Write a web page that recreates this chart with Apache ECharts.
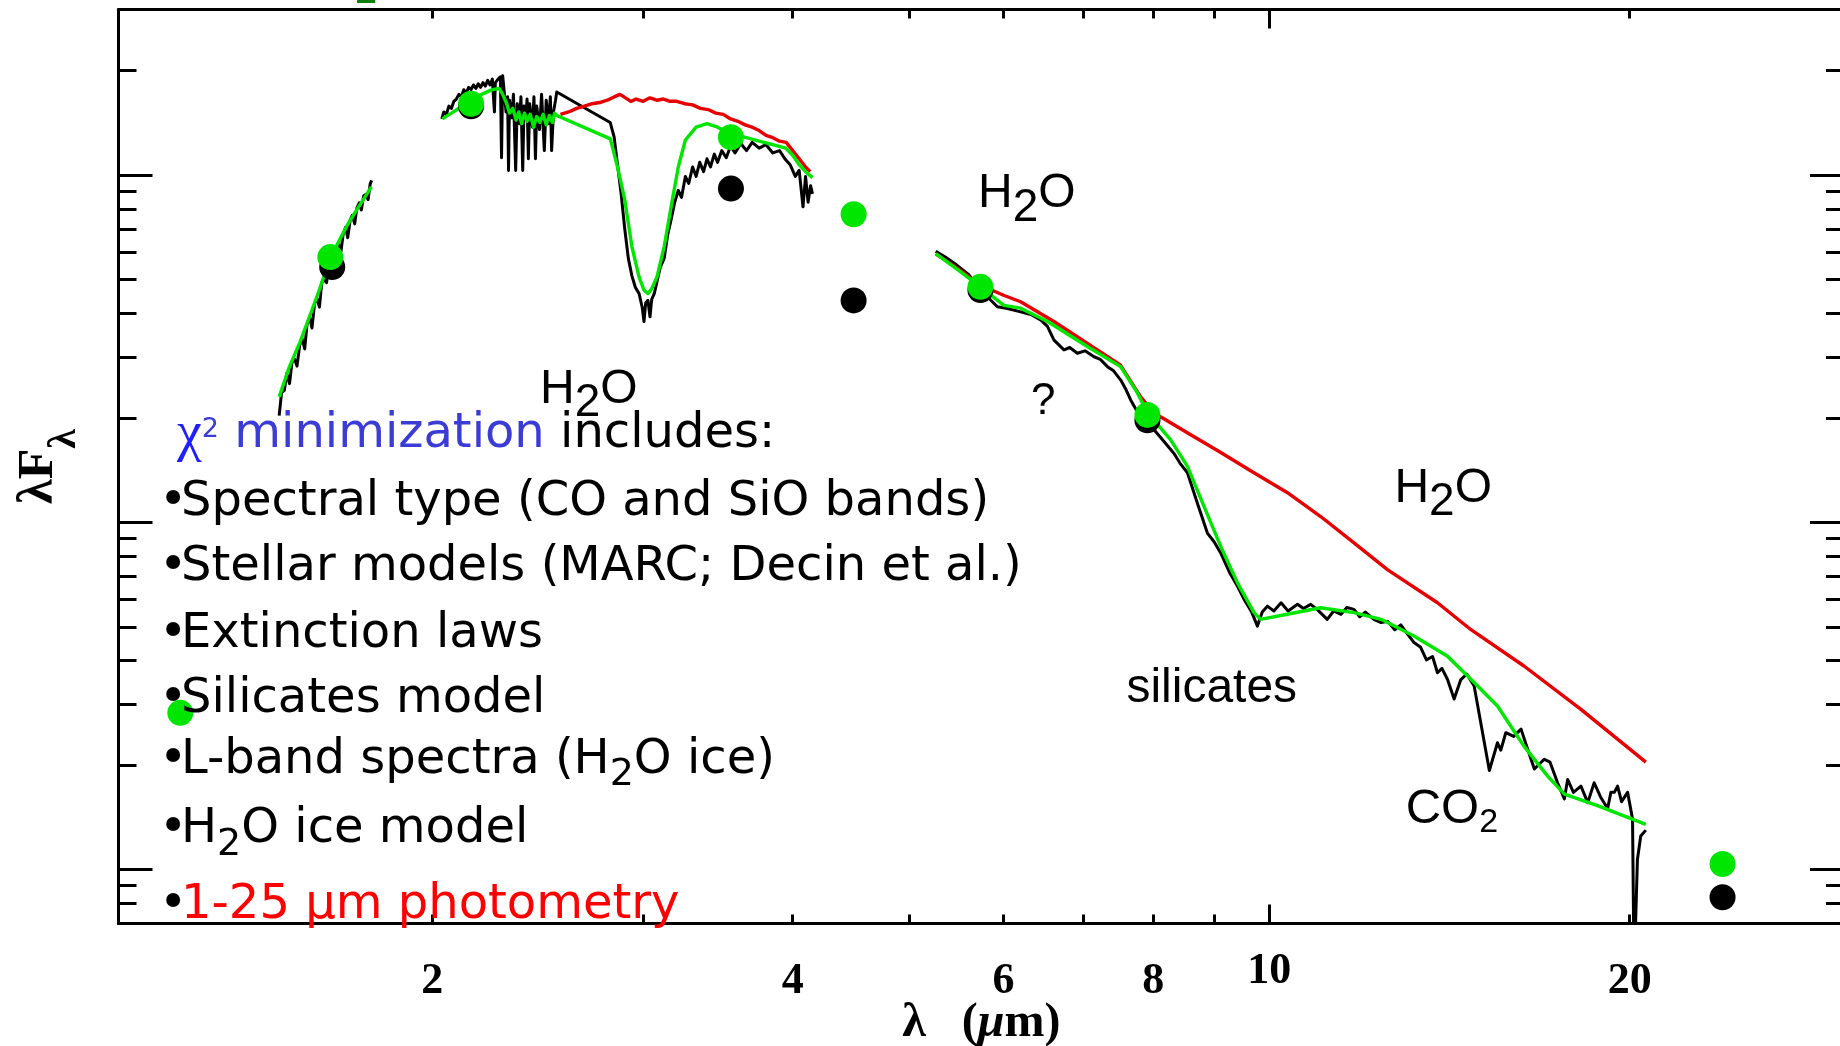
<!DOCTYPE html>
<html><head><meta charset="utf-8">
<script src="https://cdn.jsdelivr.net/npm/echarts@6/dist/echarts.min.js"></script>
<style>html,body{margin:0;padding:0;background:#fff;}#c{width:1840px;height:1046px;}</style>
</head><body><div id="c"></div>
<script>
// ---------------- data (wavelength in micron, lambda*F_lambda in arbitrary units) ----------------
const obsH = [[1.490,20.3],[1.497,23.7],[1.505,24.0],[1.512,26.9],[1.520,25.1],[1.527,28.8],[1.535,29.5],[1.542,28.2],[1.550,32.4],[1.557,33.9],[1.565,31.6],[1.572,37.2],[1.580,38.9],[1.587,36.3],[1.595,42.7],[1.602,44.2],[1.610,41.7],[1.617,49.0],[1.625,50.1],[1.632,49.0],[1.640,55.0],[1.648,55.0],[1.655,56.2],[1.663,61.7],[1.670,63.1],[1.678,60.3],[1.685,67.6],[1.693,70.8],[1.700,66.1],[1.708,74.1],[1.715,76.7],[1.723,72.4],[1.730,80.4],[1.738,83.2],[1.745,79.4],[1.753,87.1],[1.760,88.1],[1.768,85.1],[1.775,94.4],[1.780,96.6]];
const obsKL = [[2.037,145.2],[2.045,152.1],[2.055,149.7],[2.065,158.1],[2.075,155.7],[2.085,163.2],[2.095,165.7],[2.105,170.9],[2.115,168.3],[2.125,176.3],[2.135,172.2],[2.145,179.1],[2.155,176.3],[2.165,181.9],[2.175,177.7],[2.185,183.3],[2.195,179.1],[2.205,184.7],[2.215,180.5],[2.225,187.6],[2.235,181.9],[2.245,189.1],[2.250,187.6],[2.254,152.1],[2.258,184.7],[2.270,189.1],[2.280,192.0],[2.285,112.3],[2.290,193.5],[2.298,170.9],[2.305,152.1],[2.312,168.3],[2.316,103.2],[2.320,164.4],[2.330,146.3],[2.338,170.9],[2.348,103.2],[2.355,160.6],[2.365,140.7],[2.372,168.3],[2.380,103.2],[2.386,158.1],[2.395,146.3],[2.400,165.7],[2.406,111.5],[2.412,160.6],[2.425,137.5],[2.432,168.3],[2.439,111.5],[2.445,158.1],[2.458,135.3],[2.468,170.9],[2.481,117.7],[2.490,164.4],[2.502,140.7],[2.510,168.3],[2.516,117.7],[2.525,152.1],[2.535,164.4],[2.541,173.6],
  [2.816,141.8],[2.837,129.2],[2.856,107.2],[2.876,88.3],[2.896,70.0],[2.916,57.6],[2.936,51.3],[2.956,47.5],[2.977,45.6],[2.995,41.6],[3.005,37.9],[3.015,42.9],[3.028,43.6],[3.040,39.1],[3.050,43.9],[3.065,45.6],[3.081,49.3],[3.100,54.2],[3.124,57.6],[3.145,67.3],[3.166,74.4],[3.188,83.6],[3.210,90.4],[3.230,86.3],[3.254,99.2],[3.275,94.7],[3.300,105.6],[3.322,99.2],[3.345,108.9],[3.370,102.4],[3.392,111.5],[3.415,105.6],[3.440,115.0],[3.462,108.9],[3.490,117.7],[3.520,112.3],[3.550,121.4],[3.580,115.9],[3.620,123.4],[3.660,117.7],[3.700,124.3],[3.750,119.6],[3.800,122.4],[3.850,115.9],[3.900,117.7],[3.940,111.5],[3.980,107.2],[4.020,99.2],[4.050,103.2],[4.080,81.1],[4.100,99.2],[4.120,83.6],[4.140,93.3],[4.155,88.3]];
const obsMIR = [[5.266,60.4],[5.364,58.1],[5.487,55.0],[5.612,51.7],[5.740,46.7],[5.929,41.8],[6.045,41.3],[6.200,40.4],[6.324,39.7],[6.443,38.3],[6.528,36.7],[6.611,33.5],[6.739,31.4],[6.814,31.9],[6.915,30.7],[7.017,31.2],[7.140,30.0],[7.226,29.5],[7.326,28.1],[7.408,27.4],[7.516,25.7],[7.594,24.1],[7.663,22.5],[7.732,21.3],[7.811,19.8],[7.909,19.1],[8.013,18.5],[8.145,17.3],[8.327,15.8],[8.425,14.8],[8.545,13.9],[8.714,11.3],[8.879,9.32],[8.994,8.80],[9.109,8.17],[9.263,7.19],[9.408,6.55],[9.538,5.97],[9.668,5.52],[9.776,5.03],[9.867,5.52],[9.965,5.74],[10.09,5.56],[10.23,5.87],[10.37,5.56],[10.56,5.81],[10.68,5.65],[10.83,5.81],[10.97,5.61],[11.18,5.26],[11.32,5.56],[11.48,5.44],[11.61,5.69],[11.77,5.62],[11.90,5.35],[12.03,5.52],[12.23,5.26],[12.40,5.15],[12.56,5.19],[12.73,4.91],[12.88,5.07],[13.03,4.80],[13.21,4.51],[13.38,4.37],[13.53,4.02],[13.69,4.11],[13.82,3.69],[13.94,3.80],[14.09,3.53],[14.27,3.10],[14.45,3.52],[14.62,3.66],[14.83,3.38],[15.02,2.65],[15.27,1.93],[15.51,2.32],[15.61,2.21],[15.76,2.48],[16.00,2.42],[16.23,2.54],[16.44,2.22],[16.65,1.95],[16.97,2.08],[17.16,2.04],[17.41,1.78],[17.64,1.60],[17.75,1.82],[17.95,1.67],[18.21,1.74],[18.45,1.56],[18.68,1.78],[18.91,1.62],[19.17,1.50],[19.29,1.67],[19.42,1.67],[19.54,1.74],[19.69,1.57],[19.92,1.67],[20.11,1.40],[20.17,0.5],[20.22,0.5],[20.30,1.07],[20.43,1.25],[20.63,1.30]];

const modelH = [[1.490,23.0],[1.518,27.8],[1.550,32.9],[1.582,39.7],[1.611,47.1],[1.640,56.7],[1.670,64.2],[1.700,72.2],[1.731,79.8],[1.759,87.0],[1.779,92.5]];
const modelKL = [[2.039,145.2],[2.075,150.9],[2.112,156.9],[2.155,160.6],[2.199,170.9],[2.244,176.3],[2.275,177.7],[2.290,170.9],[2.308,160.6],[2.320,150.9],[2.335,155.7],[2.350,144.1],[2.362,152.1],[2.375,140.7],[2.388,150.9],[2.400,142.9],[2.415,149.7],[2.430,137.5],[2.445,147.5],[2.460,141.8],[2.475,149.7],[2.490,139.6],[2.505,148.6],[2.520,141.8],[2.530,150.9],[2.541,148.6],
  [2.817,127.2],[2.856,105.6],[2.896,85.0],[2.936,62.3],[2.977,50.9],[3.005,46.7],[3.028,45.6],[3.050,47.1],[3.081,50.9],[3.124,62.3],[3.166,81.1],[3.210,105.6],[3.254,126.3],[3.322,137.5],[3.392,140.7],[3.462,137.5],[3.559,131.2],[3.660,128.2],[3.750,125.3],[3.850,122.4],[3.947,119.6],[4.000,114.1],[4.050,107.2],[4.100,102.4],[4.155,98.4]];
const modelMIR = [[5.266,59.4],[5.500,53.3],[5.739,47.7],[6.004,42.2],[6.200,41.4],[6.529,37.9],[7.049,32.1],[7.514,28.1],[7.761,23.6],[7.912,20.7],[8.274,17.3],[8.545,14.5],[8.823,11.1],[9.110,8.53],[9.408,6.70],[9.712,5.50],[9.837,5.26],[10.35,5.44],[11.04,5.68],[11.77,5.50],[12.40,5.26],[13.21,4.71],[14.09,4.12],[14.83,3.46],[15.51,2.96],[16.32,2.27],[17.08,1.86],[17.64,1.65],[18.80,1.53],[20.63,1.35]];

const starL = [[2.559,149.7],[2.60,152.1],[2.64,155.7],[2.68,158.1],[2.72,160.6],[2.76,161.9],[2.80,164.4],[2.84,168.3],[2.87,170.9],[2.90,167.0],[2.93,163.2],[2.96,165.7],[3.00,163.2],[3.04,167.0],[3.08,164.4],[3.12,165.7],[3.16,163.2],[3.20,163.2],[3.25,160.6],[3.30,159.4],[3.35,155.7],[3.40,154.5],[3.45,150.9],[3.50,149.7],[3.55,145.2],[3.60,142.9],[3.65,139.6],[3.70,137.5],[3.75,134.4],[3.80,130.2],[3.85,128.2],[3.90,125.3],[3.95,124.3],[4.00,117.7],[4.05,111.5],[4.10,105.6],[4.137,102.4]];
const starMIR = [[5.266,59.4],[5.50,53.7],[5.74,48.2],[6.00,45.1],[6.20,43.2],[6.61,37.9],[7.05,32.8],[7.51,28.4],[7.81,23.0],[8.01,20.7],[8.55,18.1],[9.11,15.9],[9.71,13.9],[10.35,12.2],[11.04,10.4],[11.77,8.73],[12.56,7.30],[13.82,5.87],[14.74,4.91],[16.32,3.86],[18.20,2.90],[20.63,2.04]];

const photModel = [[1.232,2.83],[1.644,58.1],[2.155,160.6],[3.552,128.7],[4.497,77.2],[5.739,47.7],[7.912,20.4],[23.91,1.039]];
const photObs = [[1.650,54.4],[2.155,158.0],[3.552,91.5],[4.497,43.6],[5.739,46.7],[7.912,19.7],[23.91,0.833]];

// axis ticks / labels
const xTickMinor = [2,3,4,5,6,7,8,9,20];
const xTickMajor = [10];
const xLabels = [2,4,6,8,20];
const xLabels10 = [10];
const yTickMinor = [0.8,0.9,2,3,4,5,6,7,8,9,20,30,40,50,60,70,80,90,200];
const yTickMajor = [1,10,100];
const X_MIN = 1.094, X_MAX = 30.2, Y_MIN = 0.7, Y_MAX = 300;

// ---------------- chart ----------------
const chart = echarts.init(document.getElementById('c'), null, {renderer:'canvas'});
const BLACK='#000', GREEN='#00e600', RED='#e60000';
const tickFont = {fontFamily:'Liberation Serif', fontWeight:'bold', fontSize:44, lineHeight:44, color:'#000'};

function xAx(pos, ticks, len, labels, margin, showLine, extra) {
  return Object.assign({
    type:'log', position:pos, min:X_MIN, max:X_MAX,
    axisLine:{show:showLine, onZero:false, lineStyle:{color:BLACK, width:3}},
    axisTick:{show:true, inside:true, length:len, customValues:ticks, lineStyle:{color:BLACK, width:3}},
    axisLabel: labels ? Object.assign({show:true, customValues:labels, margin:margin}, tickFont) : {show:false},
    splitLine:{show:false}, minorTick:{show:false}, axisPointer:{show:false}
  }, extra||{});
}
function yAx(pos, ticks, len, extra) {
  return Object.assign({
    type:'log', position:pos, min:Y_MIN, max:Y_MAX,
    axisLine:{show:true, onZero:false, lineStyle:{color:BLACK, width:3}},
    axisTick:{show:true, inside:true, length:len, customValues:ticks, lineStyle:{color:BLACK, width:3}},
    axisLabel:{show:false}, splitLine:{show:false}, minorTick:{show:false}
  }, extra||{});
}
function line(data, color, width, z) {
  return {type:'line', data:data, xAxisIndex:0, yAxisIndex:0, symbol:'none', showSymbol:false,
    lineStyle:{color:color, width:width, join:'round'}, z:z, silent:true, clip:true};
}
function dots(data, color, z) {
  return {type:'scatter', data:data, xAxisIndex:0, yAxisIndex:0, symbol:'circle', symbolSize:26,
    itemStyle:{color:color, opacity:1}, z:z, silent:true};
}

const bodyBase = {fontFamily:'DejaVu Sans', fontSize:48, lineHeight:48, fill:'#000'};
const bodyRich = {
  b:{fontFamily:'DejaVu Sans', fontSize:48, lineHeight:48, width:22, fill:'#000'},
  s:{fontFamily:'DejaVu Sans', fontSize:38, lineHeight:38, padding:[30,0,0,0], fill:'#000'},
  r:{fontFamily:'DejaVu Sans', fontSize:48, lineHeight:48, fill:'#ff0000'},
  chi:{fontFamily:'Liberation Serif', fontSize:56, lineHeight:56, fill:'#1f1fff'},
  sup:{fontFamily:'DejaVu Sans', fontSize:27, lineHeight:27, padding:[0,0,10,0], fill:'#3b3bd6'},
  blue:{fontFamily:'DejaVu Sans', fontSize:48, lineHeight:48, fill:'#3b3bd6'}
};
function body(x, y, text) {
  return {type:'text', x:x, y:y, z:100, silent:true,
    style:Object.assign({text:text, align:'left', verticalAlign:'middle', rich:bodyRich}, bodyBase)};
}
const annBase = {fontFamily:'Liberation Sans', fontSize:48, lineHeight:48, fill:'#000'};
const annRich = {
  m:{fontFamily:'Liberation Sans', fontSize:48, lineHeight:48, fill:'#000'},
  s:{fontFamily:'Liberation Sans', fontSize:46, lineHeight:46, padding:[28,0,0,0], fill:'#000'},
  c:{fontFamily:'Liberation Sans', fontSize:49, lineHeight:49, fill:'#000'},
  cs:{fontFamily:'Liberation Sans', fontSize:34, lineHeight:34, padding:[26,0,0,0], fill:'#000'}
};
function ann(x, y, text, extra) {
  return {type:'text', x:x, y:y, z:100, silent:true,
    style:Object.assign({text:text, align:'left', verticalAlign:'middle', rich:annRich}, annBase, extra||{})};
}

const option = {
  animation:false,
  backgroundColor:'#ffffff',
  grid:{left:118.5, top:9.5, width:1725.5, height:914, containLabel:false, outerBoundsMode:'none'},
  xAxis:[
    xAx('bottom', xTickMinor, 9, xLabels, 36, true, {
      name:'{a|λ}{a|   (}{i|μ}{a|m)}', nameLocation:'middle', nameGap:76, nameMoveOverlap:false,
      nameTextStyle:{rich:{
        a:{fontFamily:'Liberation Serif', fontWeight:'bold', fontSize:48, lineHeight:48, color:'#000'},
        i:{fontFamily:'Liberation Serif', fontWeight:'bold', fontStyle:'italic', fontSize:48, lineHeight:48, color:'#000'}
      }}
    }),
    xAx('bottom', xTickMajor, 19, xLabels10, 26, false),
    xAx('top', xTickMinor, 9, null, 0, true),
    xAx('top', xTickMajor, 19, null, 0, false)
  ],
  yAxis:[
    yAx('left', yTickMinor, 18, {
      name:'{m|λF}{s|λ}', nameLocation:'middle', nameRotate:90, nameGap:54, nameMoveOverlap:false,
      nameTextStyle:{rich:{
        m:{fontFamily:'Liberation Serif', fontWeight:'bold', fontSize:50, lineHeight:50, color:'#000'},
        s:{fontFamily:'Liberation Serif', fontWeight:'bold', fontSize:40, lineHeight:40, padding:[50,0,0,0], color:'#000'}
      }}
    }),
    yAx('left', yTickMajor, 34),
    yAx('right', yTickMinor, 18),
    yAx('right', yTickMajor, 34)
  ],
  series:[
    line(obsH, BLACK, 3, 2), line(obsKL, BLACK, 3, 2), line(obsMIR, BLACK, 3, 2),
    line(starL, RED, 3.4, 3), line(starMIR, RED, 3.4, 3),
    line(modelH, GREEN, 3.4, 4), line(modelKL, GREEN, 3.4, 4), line(modelMIR, GREEN, 3.4, 4),
    dots(photObs, BLACK, 5), dots(photModel, GREEN, 6)
  ],
  graphic:[
    body(177, 435, '{chi|χ}{sup|2} {blue|minimization} includes:'),
    body(159, 503, '{b|•}Spectral type (CO and SiO bands)'),
    body(159, 568, '{b|•}Stellar models (MARC; Decin et al.)'),
    body(159, 634.5, '{b|•}Extinction laws'),
    body(159, 699.5, '{b|•}Silicates model'),
    body(159, 760.5, '{b|•}L-band spectra (H{s|2}O ice)'),
    body(159, 830, '{b|•}H{s|2}O ice model'),
    body(159, 906, '{b|•}{r|1-25 μm photometry}'),
    ann(978, 194, '{m|H}{s|2}{m|O}'),
    ann(540, 389.5, '{m|H}{s|2}{m|O}'),
    ann(1394.4, 488.5, '{m|H}{s|2}{m|O}'),
    ann(1031, 401.5, '?', {fontSize:44, lineHeight:44}),
    ann(1126.4, 688.5, 'silicates', {fontSize:48, lineHeight:48}),
    ann(1405.7, 809.8, '{c|CO}{cs|2}'),
    ann(355, -8.2, '2', {fontSize:40, lineHeight:40, fill:'#0a7f0a'})
  ]
};
chart.setOption(option);
</script></body></html>
